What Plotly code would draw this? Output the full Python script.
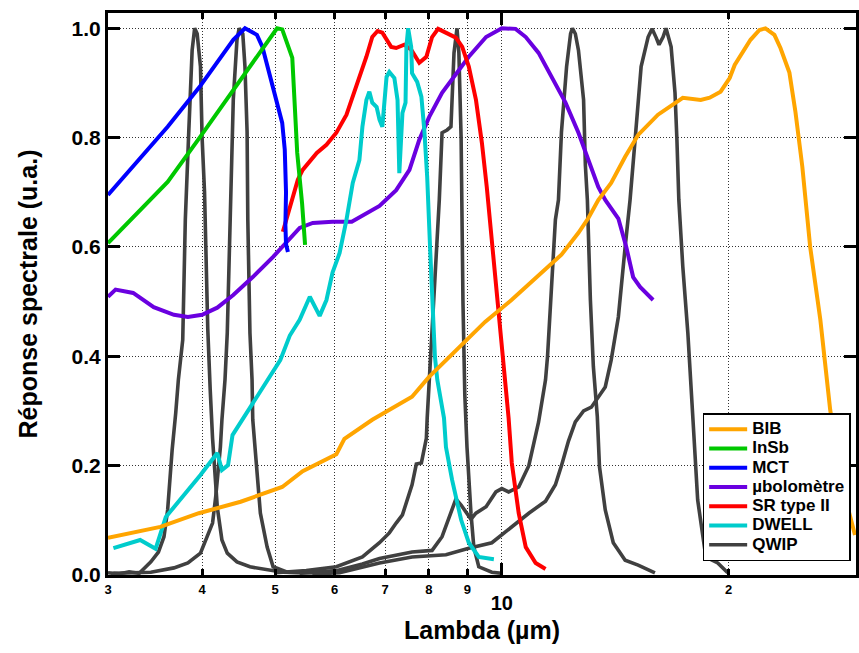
import math
import plotly.graph_objects as go

# ---- spectral responses (wavelength in µm, normalised response) ----
bib_wl = [3.0, 3.52, 3.96, 4.5, 5.11, 5.44, 6.03, 6.18, 6.73, 7.6, 8.0, 8.98, 9.5, 10.3, 11.4,
          12.0, 12.64, 13.03, 13.43, 13.97, 14.58, 15.17, 16.12, 17.39, 18.37, 18.88, 19.52,
          20.07, 20.38, 21.39, 21.98, 22.39, 23.01, 23.44, 24.09, 24.54, 25.06, 25.44, 25.67,
          26.48, 27.29, 27.88, 28.74, 29.44]
bib_resp = [0.068, 0.088, 0.113, 0.134, 0.161, 0.19, 0.221, 0.249, 0.284, 0.326, 0.362, 0.43,
            0.463, 0.503, 0.558, 0.586, 0.626, 0.653, 0.686, 0.717, 0.765, 0.805, 0.842, 0.873,
            0.869, 0.873, 0.884, 0.909, 0.933, 0.979, 0.997, 1.0, 0.988, 0.964, 0.919, 0.847,
            0.747, 0.653, 0.6, 0.467, 0.302, 0.22, 0.128, 0.073]

insb_wl = [3.0, 3.24, 3.6, 3.97, 4.40, 4.78, 5.03, 5.11, 5.27, 5.35, 5.43, 5.48]
insb_resp = [0.607, 0.655, 0.719, 0.8, 0.887, 0.96, 1.0, 0.998, 0.946, 0.772, 0.68, 0.604]

mct_wl = [3.0, 3.24, 3.6, 3.97, 4.40, 4.56, 4.73, 4.81, 4.89, 5.03, 5.11, 5.15, 5.17, 5.16,
          5.17, 5.2]
mct_resp = [0.695, 0.747, 0.82, 0.893, 0.979, 1.0, 0.988, 0.966, 0.93, 0.864, 0.827, 0.778,
            0.70, 0.64, 0.605, 0.591]

bolo_wl = [3.0, 3.07, 3.24, 3.45, 3.67, 3.83, 4.0, 4.19, 4.40, 4.67, 4.97, 5.19, 5.39, 5.61,
           5.96, 6.32, 6.61, 6.88, 7.24, 7.54, 7.77, 8.01, 8.33, 8.69, 9.04, 9.53, 10.0, 10.43,
           10.76, 11.19, 11.78, 12.15, 12.64, 13.43, 13.72, 14.28, 14.63, 14.94, 15.26, 15.88]
bolo_resp = [0.509, 0.522, 0.516, 0.49, 0.476, 0.472, 0.476, 0.489, 0.512, 0.545, 0.582, 0.609,
             0.635, 0.644, 0.646, 0.646, 0.662, 0.675, 0.704, 0.741, 0.796, 0.838, 0.882, 0.915,
             0.948, 0.984, 1.0, 0.999, 0.984, 0.955, 0.9, 0.864, 0.809, 0.71, 0.686, 0.652,
             0.6, 0.545, 0.527, 0.503]

sr_wl = [5.12, 5.2, 5.36, 5.44, 5.68, 5.85, 6.03, 6.22, 6.41, 6.61, 6.73, 6.84, 6.94, 7.13,
         7.24, 7.42, 7.58, 7.77, 7.94, 8.08, 8.23, 8.43, 8.69, 8.86, 9.04, 9.24, 9.41, 9.55,
         9.91, 10.12, 10.21, 10.31, 10.53, 10.76, 11.09, 11.43]
sr_resp = [0.628, 0.662, 0.723, 0.741, 0.772, 0.787, 0.809, 0.842, 0.893, 0.948, 0.984, 0.995,
           0.992, 0.966, 0.964, 0.97, 0.961, 0.937, 0.948, 0.984, 0.999, 0.992, 0.983, 0.966,
           0.93, 0.869, 0.79, 0.71, 0.485, 0.357, 0.287, 0.205, 0.113, 0.051, 0.022, 0.011]

dwell_wl = [3.05, 3.31, 3.47, 3.58, 3.98, 4.19, 4.25, 4.33, 4.39, 4.63, 4.88, 5.08, 5.23, 5.39,
            5.56, 5.73, 5.85, 5.96, 6.09, 6.22, 6.34, 6.47, 6.53, 6.61, 6.67, 6.73, 6.82, 6.88,
            6.94, 7.03, 7.09, 7.2, 7.27, 7.31, 7.38, 7.45, 7.47, 7.51, 7.58, 7.6, 7.72, 7.82,
            7.89, 7.96, 8.03, 8.15, 8.21, 8.38, 8.43, 8.59, 8.83, 9.04, 9.32, 9.76]
dwell_resp = [0.049, 0.064, 0.048, 0.106, 0.183, 0.223, 0.192, 0.201, 0.256, 0.307, 0.357,
              0.393, 0.438, 0.467, 0.509, 0.474, 0.503, 0.553, 0.589, 0.65, 0.717, 0.759, 0.82,
              0.869, 0.884, 0.864, 0.856, 0.833, 0.82, 0.911, 0.92, 0.909, 0.869, 0.735, 0.845,
              0.864, 0.966, 1.0, 0.966, 0.918, 0.902, 0.875, 0.814, 0.728, 0.6, 0.4, 0.357,
              0.287, 0.234, 0.174, 0.101, 0.059, 0.033, 0.029]

# five QWIP detectors, shown under a single legend entry
qwip1_wl = [3.0, 3.1, 3.2, 3.3, 3.35, 3.42, 3.5, 3.56, 3.6, 3.63, 3.65, 3.69, 3.72, 3.77, 3.8,
            3.84, 3.88, 3.91, 3.94, 3.98, 4.0, 4.03, 4.07, 4.1, 4.13, 4.19, 4.25, 4.32, 4.45,
            4.63, 4.88, 5.12, 5.4]
qwip1_resp = [0.004, 0.002, 0.006, 0.003, 0.012, 0.024, 0.042, 0.07, 0.119, 0.187, 0.229, 0.296,
              0.357, 0.43, 0.65, 0.81, 0.96, 1.0, 0.99, 0.93, 0.8, 0.7, 0.45, 0.34, 0.25, 0.124,
              0.064, 0.04, 0.024, 0.015, 0.009, 0.005, 0.004]

qwip2_wl = [3.05, 3.3, 3.42, 3.67, 3.83, 3.98, 4.13, 4.17, 4.23, 4.25, 4.29, 4.32, 4.36, 4.40,
            4.45, 4.48, 4.53, 4.56, 4.59, 4.6, 4.63, 4.66, 4.67, 4.7, 4.78, 4.88, 4.97, 5.19, 5.6]
qwip2_resp = [0.003, 0.004, 0.005, 0.013, 0.022, 0.04, 0.095, 0.143, 0.234, 0.284, 0.357, 0.443,
              0.65, 0.869, 0.979, 1.0, 0.99, 0.93, 0.81, 0.65, 0.443, 0.357, 0.284, 0.234, 0.113,
              0.051, 0.015, 0.005, 0.004]

qwip3_wl = [5.0, 5.5, 6.03, 6.53, 6.88, 7.09, 7.24, 7.38, 7.6, 7.7, 7.82, 7.94, 7.96, 8.01, 8.08,
            8.18, 8.26, 8.33, 8.46, 8.56, 8.64, 8.72, 8.77, 8.83, 8.86, 8.88, 8.93, 8.99, 9.1,
            9.18, 9.32, 9.7, 10.0]
qwip3_resp = [0.004, 0.008, 0.015, 0.033, 0.059, 0.077, 0.095, 0.11, 0.165, 0.203, 0.205, 0.25,
              0.287, 0.357, 0.443, 0.564, 0.686, 0.809, 0.814, 0.82, 0.955, 1.0, 0.955, 0.8, 0.6,
              0.5, 0.33, 0.234, 0.113, 0.051, 0.015, 0.005, 0.003]

qwip4_wl = [5.39, 6.03, 6.53, 6.88, 7.6, 8.08, 8.33, 8.51, 8.69, 8.83, 8.96, 9.1, 9.24, 9.53,
            9.82, 10.0, 10.21, 10.53, 10.86, 11.19, 11.43, 11.5, 11.78, 11.89, 12.0, 12.19, 12.34,
            12.41, 12.52, 12.64, 12.84, 12.91, 12.99, 13.11, 13.23, 13.39, 13.48, 13.72, 14.06,
            14.58, 15.17, 15.64, 15.97]
qwip4_resp = [0.003, 0.008, 0.02, 0.03, 0.042, 0.045, 0.07, 0.106, 0.139, 0.128, 0.115, 0.102,
              0.113, 0.125, 0.152, 0.158, 0.152, 0.161, 0.2, 0.28, 0.357, 0.4, 0.65, 0.686, 0.81,
              0.93, 0.99, 1.0, 0.99, 0.96, 0.869, 0.75, 0.686, 0.503, 0.381, 0.29, 0.198, 0.119,
              0.059, 0.027, 0.018, 0.009, 0.004]

qwip5_wl = [5.6, 6.09, 6.88, 7.6, 8.43, 9.04, 9.7, 10.31, 10.86, 11.43, 11.78, 12.0, 12.26, 12.52,
            12.84, 13.15, 13.43, 13.72, 13.97, 14.28, 14.58, 14.8, 15.03, 15.31, 15.64, 15.83,
            16.03, 16.17, 16.37, 16.52, 16.78, 16.98, 17.08, 17.18, 17.39, 17.66, 17.94, 18.2,
            18.66, 19.35, 19.95]
qwip5_resp = [0.002, 0.004, 0.022, 0.033, 0.037, 0.049, 0.059, 0.088, 0.113, 0.135, 0.165, 0.2,
              0.245, 0.28, 0.3, 0.307, 0.325, 0.344, 0.393, 0.472, 0.6, 0.686, 0.796, 0.93,
              0.984, 0.999, 0.983, 0.97, 0.984, 1.0, 0.966, 0.882, 0.796, 0.686, 0.564, 0.443,
              0.284, 0.137, 0.033, 0.022, 0.004]

# axis ticks
minor_ticks = [3, 4, 5, 6, 7, 8, 9, 20]
minor_labels = ["3", "4", "5", "6", "7", "8", "9", "2"]
decade_ticks = [10]
decade_labels = ["10"]
y_ticks = [0.0, 0.2, 0.4, 0.6, 0.8, 1.0]
y_labels = ["0.0", "0.2", "0.4", "0.6", "0.8", "1.0"]

FONT = "Liberation Sans, Arial, Helvetica, sans-serif"
GRID_DASH = "1px,2px"
LEGEND_TEXT = "<span style='font-size:17px'>{}</span>"

fig = go.Figure()


def add_curve(wl, resp, name, color, rank, width=4, show=True, group=None, xaxis="x"):
    fig.add_trace(go.Scatter(
        x=wl, y=resp, mode="lines", name=LEGEND_TEXT.format(name),
        line=dict(color=color, width=width), xaxis=xaxis,
        showlegend=show, legendgroup=group or name, legendrank=rank,
    ))


# drawing order: grey QWIP underneath, BIB on top
qwip_sets = [(qwip1_wl, qwip1_resp), (qwip2_wl, qwip2_resp), (qwip3_wl, qwip3_resp),
             (qwip4_wl, qwip4_resp), (qwip5_wl, qwip5_resp)]
for i, (wl, resp) in enumerate(qwip_sets):
    add_curve(wl, resp, "QWIP", "#404040", 7, width=3.6, show=(i == 0), group="QWIP")
add_curve(bolo_wl, bolo_resp, "µbolomètre", "#6A00E0", 4)
add_curve(sr_wl, sr_resp, "SR type II", "#FF0000", 5)
add_curve(dwell_wl, dwell_resp, "DWELL", "#00CCCC", 6)
add_curve(mct_wl, mct_resp, "MCT", "#0000FF", 3)
add_curve(insb_wl, insb_resp, "InSb", "#00C800", 2)
# BIB sits on the overlaid axis that carries the decade tick
add_curve(bib_wl, bib_resp, "BIB", "#FFA500", 1, xaxis="x2")

x_range = [math.log10(3.0), math.log10(29.53)]

fig.update_layout(
    width=859, height=653,
    margin=dict(l=108, r=0, t=13, b=78),
    paper_bgcolor="white", plot_bgcolor="white",
    font=dict(family=FONT, color="black"),
    xaxis=dict(
        type="log", range=x_range,
        tickmode="array", tickvals=minor_ticks, ticktext=minor_labels,
        ticks="inside", ticklen=6, tickwidth=3, tickcolor="black",
        tickfont=dict(size=13, family=FONT, color="black", weight="bold"),
        showline=True, linewidth=3, linecolor="black", mirror="ticks",
        showgrid=True, gridcolor="#333333", gridwidth=1, griddash=GRID_DASH,
        zeroline=False,
        title=dict(text="Lambda (µm)", standoff=26,
                   font=dict(size=25, family=FONT, color="black", weight="bold")),
    ),
    xaxis2=dict(
        type="log", range=x_range, overlaying="x", anchor="y", side="bottom",
        tickmode="array", tickvals=decade_ticks, ticktext=decade_labels,
        ticks="inside", ticklen=12, tickwidth=3, tickcolor="black",
        tickfont=dict(size=20, family=FONT, color="black", weight="bold"),
        ticklabelstandoff=14,
        showline=False, mirror="ticks",
        showgrid=True, gridcolor="#333333", gridwidth=1, griddash=GRID_DASH,
        zeroline=False,
    ),
    yaxis=dict(
        range=[0, 1.028],
        tickmode="array", tickvals=y_ticks, ticktext=y_labels,
        ticks="inside", ticklen=12, tickwidth=3, tickcolor="black",
        tickfont=dict(size=21, family=FONT, color="black", weight="bold"),
        showline=True, linewidth=3, linecolor="black", mirror="ticks",
        showgrid=True, gridcolor="#333333", gridwidth=1, griddash=GRID_DASH,
        zeroline=False,
        title=dict(text="Réponse spectrale (u.a.)", standoff=27,
                   font=dict(size=25, family=FONT, color="black", weight="bold")),
    ),
    legend=dict(
        x=0.795, y=0.288, xanchor="left", yanchor="top",
        bgcolor="white", bordercolor="black", borderwidth=1.5,
        font=dict(size=12.5, family=FONT, color="black", weight="bold"),
        tracegroupgap=0, itemwidth=38,
    ),
    showlegend=True,
)

fig.write_html("out.html")
